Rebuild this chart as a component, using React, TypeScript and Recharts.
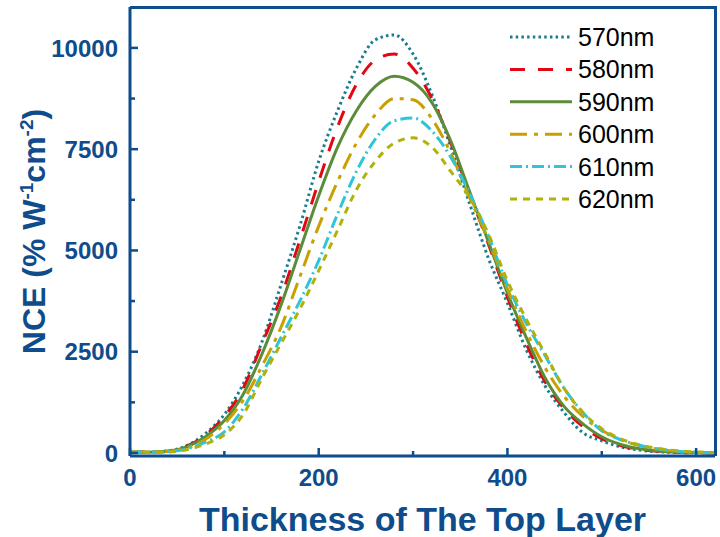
import { LineChart, Line, XAxis, YAxis, Legend, Label } from 'recharts'

const thickness = [
  0, 20, 40, 60, 80, 100, 120, 140, 160, 180, 200, 220, 240, 260, 280, 300,
  320, 340, 360, 380, 400, 420, 440, 460, 480, 500, 520, 540, 560, 580, 600, 620,
]

const nce570 = [
  30, 20, 50, 180, 480, 950, 1700, 2750, 4150, 5600, 7200, 8450, 9500, 10200, 10320, 9850,
  8850, 7550, 6150, 4800, 3700, 2550, 1650, 1000, 500, 300, 150, 70, 30, 10, 5, 0,
]
const nce580 = [
  30, 20, 45, 170, 440, 900, 1600, 2700, 3850, 5250, 6700, 8050, 9100, 9700, 9850, 9500,
  8750, 7650, 6400, 5150, 3850, 2700, 1750, 1100, 650, 350, 180, 90, 40, 15, 5, 0,
]
const nce590 = [
  30, 20, 40, 150, 400, 800, 1450, 2450, 3650, 5000, 6350, 7550, 8450, 9050, 9300, 9150,
  8650, 7700, 6450, 5200, 3950, 2850, 1850, 1150, 720, 400, 210, 105, 50, 20, 10, 0,
]
const nce600 = [
  30, 20, 35, 120, 340, 720, 1300, 2150, 3100, 4350, 5600, 6700, 7650, 8350, 8750, 8720,
  8250, 7400, 6300, 5250, 4050, 3000, 2100, 1400, 900, 560, 330, 180, 90, 40, 15, 5,
]
const nce610 = [
  30, 20, 30, 100, 270, 520, 1100, 1950, 2850, 3750, 4750, 5900, 6950, 7750, 8200, 8270,
  7950, 7300, 6400, 5350, 4150, 3200, 2400, 1600, 1000, 550, 330, 190, 100, 45, 20, 5,
]
const nce620 = [
  30, 20, 25, 80, 220, 450, 950, 1850, 2700, 3550, 4500, 5500, 6500, 7200, 7650, 7780,
  7550, 6950, 6300, 5400, 4250, 3300, 2450, 1600, 1000, 600, 350, 200, 110, 55, 25, 10,
]

const seriesNames = ['570nm', '580nm', '590nm', '600nm', '610nm', '620nm']
const seriesValues = [nce570, nce580, nce590, nce600, nce610, nce620]

const xTicks = [0, 100, 200, 300, 400, 500, 600]
const yTicks = [0, 1250, 2500, 3750, 5000, 6250, 7500, 8750, 10000]
const xDomain = [0, 620]
const yDomain = [-75, 11010]

const styles = [
  { color: '#1a7c8f', dash: '2.5 3.2' },
  { color: '#e30613', dash: '15 13' },
  { color: '#5b8c3a', dash: undefined },
  { color: '#c8a000', dash: '17 7 4 7' },
  { color: '#2ec5d8', dash: '12 4 2 4' },
  { color: '#b0b10a', dash: '7 6' },
]

const data = thickness.map((t, i) => {
  const row: Record<string, number> = { t }
  seriesNames.forEach((name, k) => {
    row[name] = seriesValues[k][i]
  })
  return row
})

const axisColor = '#0e4c8c'
const fontFamily = 'Arial, "Liberation Sans", sans-serif'
const axisLineStyle = { stroke: axisColor, strokeWidth: 3 }

const W = 720
const H = 537
const margin = { top: 7, right: 5, left: 0, bottom: 0 }
const yAxisWidth = 130
const xAxisHeight = 81

// ticks point into the plot; labels only on the major ones
function XTick(props: any) {
  const { x, y, payload } = props
  const major = payload.value % 200 === 0
  return (
    <g>
      <line x1={x} x2={x} y1={y} y2={y - (major ? 8 : 5)} stroke={axisColor} strokeWidth={2.5} />
      {major && (
        <text x={x} y={y + 30} textAnchor="middle" fill={axisColor} fontSize={24} fontWeight="bold" fontFamily={fontFamily}>
          {payload.value}
        </text>
      )}
    </g>
  )
}

function YTick(props: any) {
  const { x, y, payload } = props
  const major = payload.value % 2500 === 0
  return (
    <g>
      <line x1={x} x2={x + (major ? 8 : 5)} y1={y} y2={y} stroke={axisColor} strokeWidth={2.5} />
      {major && (
        <text x={x - 12} y={y} dy="0.36em" textAnchor="end" fill={axisColor} fontSize={24} fontWeight="bold" fontFamily={fontFamily}>
          {payload.value}
        </text>
      )}
    </g>
  )
}

function YTitle(props: any) {
  const { viewBox } = props
  const cx = viewBox.x + 45
  const cy = viewBox.y + viewBox.height / 2
  return (
    <text
      x={cx}
      y={cy}
      transform={`rotate(-90 ${cx} ${cy})`}
      textAnchor="middle"
      fill={axisColor}
      fontSize={32}
      fontWeight="bold"
      fontFamily={fontFamily}
    >
      NCE (% W<tspan fontSize={19} dy={-12}>-1</tspan>
      <tspan dy={12}>cm</tspan>
      <tspan fontSize={19} dy={-12}>-2</tspan>
      <tspan dy={12}>)</tspan>
    </text>
  )
}

function LegendBox() {
  return (
    <svg width={170} height={200}>
      {seriesNames.map((name, i) => {
        const y = 17 + i * 32.4
        return (
          <g key={name}>
            <line
              x1={0}
              x2={62}
              y1={y}
              y2={y}
              stroke={styles[i].color}
              strokeWidth={3}
              strokeDasharray={styles[i].dash}
            />
            <text x={68} y={y} dy="0.36em" fontSize={25} fill="#000" fontFamily={fontFamily}>
              {name}
            </text>
          </g>
        )
      })}
    </svg>
  )
}

export default function App() {
  // top and right edges of the box, laid over the plot area
  const frame = {
    position: 'absolute' as const,
    left: margin.left + yAxisWidth,
    top: margin.top - 1.5,
    width: W - margin.left - margin.right - yAxisWidth + 1.5,
    height: H - margin.top - margin.bottom - xAxisHeight + 1.5,
    borderTop: `3px solid ${axisColor}`,
    borderRight: `3px solid ${axisColor}`,
    boxSizing: 'border-box' as const,
    pointerEvents: 'none' as const,
  }
  return (
    <div style={{ position: 'absolute', left: 0, top: 0, width: W, height: H, background: '#fff' }}>
      <LineChart width={W} height={H} data={data} margin={margin}>
        <XAxis
          dataKey="t"
          type="number"
          domain={xDomain}
          ticks={xTicks}
          interval={0}
          height={xAxisHeight}
          tickLine={false}
          tickSize={0}
          tickMargin={0}
          axisLine={axisLineStyle}
          tick={<XTick />}
        >
          <Label
            value="Thickness of The Top Layer"
            position="insideBottom"
            offset={6}
            fill={axisColor}
            fontSize={34}
            fontWeight="bold"
            fontFamily={fontFamily}
          />
        </XAxis>
        <YAxis
          type="number"
          domain={yDomain}
          ticks={yTicks}
          interval={0}
          width={yAxisWidth}
          tickLine={false}
          tickSize={0}
          tickMargin={0}
          axisLine={axisLineStyle}
          tick={<YTick />}
          label={{ content: <YTitle /> }}
        />
        <Legend
          layout="horizontal"
          verticalAlign="middle"
          content={<LegendBox />}
          wrapperStyle={{ position: 'absolute', left: 510, top: 20, width: 170 }}
        />
        {seriesNames.map((name, i) => (
          <Line
            key={name}
            type="monotone"
            dataKey={name}
            stroke={styles[i].color}
            strokeWidth={3}
            strokeDasharray={styles[i].dash}
            dot={false}
            activeDot={false}
            isAnimationActive={false}
          />
        ))}
      </LineChart>
      <div style={frame} />
    </div>
  )
}
